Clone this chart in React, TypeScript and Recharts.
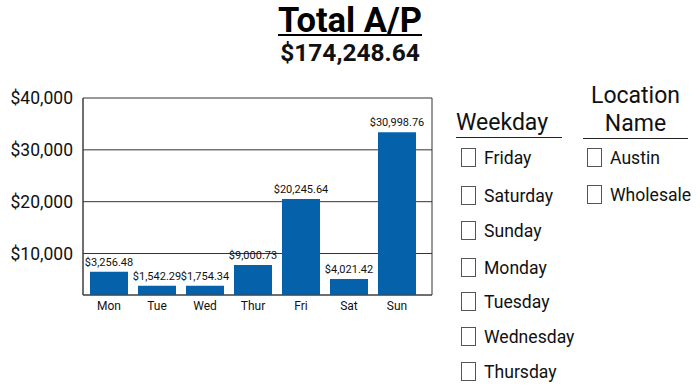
import { Bar, BarChart, CartesianGrid, LabelList, XAxis, YAxis } from "recharts";

const BAR_COLOR = "#0461aa";
const FONT = "Roboto, 'Noto Sans', sans-serif";

// bar heights; the printed labels come from their own list
const days = ["Mon", "Tue", "Wed", "Thur", "Fri", "Sat", "Sun"];
const barValues = [6500, 3800, 3800, 7800, 20500, 5100, 33400];
const barLabels = [
  "$3,256.48",
  "$1,542.29",
  "$1,754.34",
  "$9,000.73",
  "$20,245.64",
  "$4,021.42",
  "$30,998.76",
];
const yTicks = [10000, 20000, 30000, 40000];
const weekdayItems = [
  "Friday",
  "Saturday",
  "Sunday",
  "Monday",
  "Tuesday",
  "Wednesday",
  "Thursday",
];
const weekdayTops = [147, 185, 220, 257, 291, 326, 361];
const locationItems = ["Austin", "Wholesale"];
const locationTops = [147, 184];

const data = days.map((day, i) => ({ day, value: barValues[i], label: barLabels[i] }));

const dollars = (v: number) => `$${v.toLocaleString("en-US")}`;

function CheckItem({ text, left, top }: { text: string; left: number; top: number }) {
  return (
    <div style={{ position: "absolute", left, top, height: 20, display: "flex", alignItems: "center" }}>
      <div
        style={{
          width: 15,
          height: 19,
          border: "1px solid #555",
          boxSizing: "border-box",
          marginRight: 8,
        }}
      />
      <span style={{ fontSize: 17.6, color: "#111", whiteSpace: "nowrap", marginTop: 1 }}>{text}</span>
    </div>
  );
}

export default function App() {
  return (
    <div
      style={{
        position: "absolute",
        left: 0,
        top: 0,
        width: 700,
        height: 388,
        background: "#fff",
        fontFamily: FONT,
        overflow: "hidden",
      }}
    >
      {/* header */}
      <div
        style={{
          position: "absolute",
          left: 0,
          width: 700,
          top: 0,
          textAlign: "center",
          fontWeight: 700,
          fontSize: 34.5,
          lineHeight: "40px",
          color: "#000",
          textDecoration: "underline",
          textDecorationThickness: "2px",
          textUnderlineOffset: "2px",
        }}
      >
        Total A/P
      </div>
      <div
        style={{
          position: "absolute",
          left: 0,
          width: 700,
          top: 42,
          textAlign: "center",
          fontWeight: 700,
          fontSize: 24.5,
          lineHeight: "22px",
          color: "#111",
        }}
      >
        $174,248.64
      </div>

      <div style={{ position: "absolute", left: 0, top: 0 }}>
        <BarChart
          width={440}
          height={320}
          data={data}
          margin={{ top: 98, right: 8, bottom: 0, left: 0 }}
          barSize={38}
        >
          <CartesianGrid
            stroke="#333"
            strokeWidth={1}
            verticalCoordinatesGenerator={({ offset }: any) => [
              offset.left,
              offset.left + offset.width,
            ]}
          />
          <XAxis
            dataKey="day"
            height={25}
            tickLine={false}
            axisLine={{ stroke: "#444" }}
            tickMargin={0}
            padding={{ left: 2, right: 11 }}
            tick={{ fontSize: 12, fill: "#111", fontFamily: FONT }}
            interval={0}
          />
          <YAxis
            width={83}
            domain={[2000, 40000]}
            ticks={yTicks}
            tickFormatter={dollars}
            tickLine={false}
            tickMargin={4}
            axisLine={{ stroke: "#444" }}
            tick={{ fontSize: 17.5, fill: "#111", fontFamily: FONT }}
            allowDataOverflow
          />
          <Bar dataKey="value" fill={BAR_COLOR} isAnimationActive={false}>
            <LabelList
              dataKey="label"
              position="top"
              offset={6}
              style={{ fontSize: 11, fill: "#111", fontFamily: FONT }}
            />
          </Bar>
        </BarChart>
      </div>

      {/* Weekday slicer */}
      <div
        style={{
          position: "absolute",
          left: 456,
          top: 108,
          width: 106,
          borderBottom: "1.5px solid #222",
          fontSize: 23,
          lineHeight: "29px",
          color: "#111",
        }}
      >
        Weekday
      </div>
      {weekdayItems.map((w, i) => (
        <CheckItem key={w} text={w} left={461} top={weekdayTops[i]} />
      ))}

      {/* Location slicer */}
      <div
        style={{
          position: "absolute",
          left: 583,
          top: 82,
          width: 105,
          borderBottom: "1.5px solid #222",
          fontSize: 23,
          lineHeight: "28px",
          textAlign: "center",
          color: "#111",
        }}
      >
        Location
        <br />
        Name
      </div>
      {locationItems.map((l, i) => (
        <CheckItem key={l} text={l} left={587} top={locationTops[i]} />
      ))}
    </div>
  );
}
